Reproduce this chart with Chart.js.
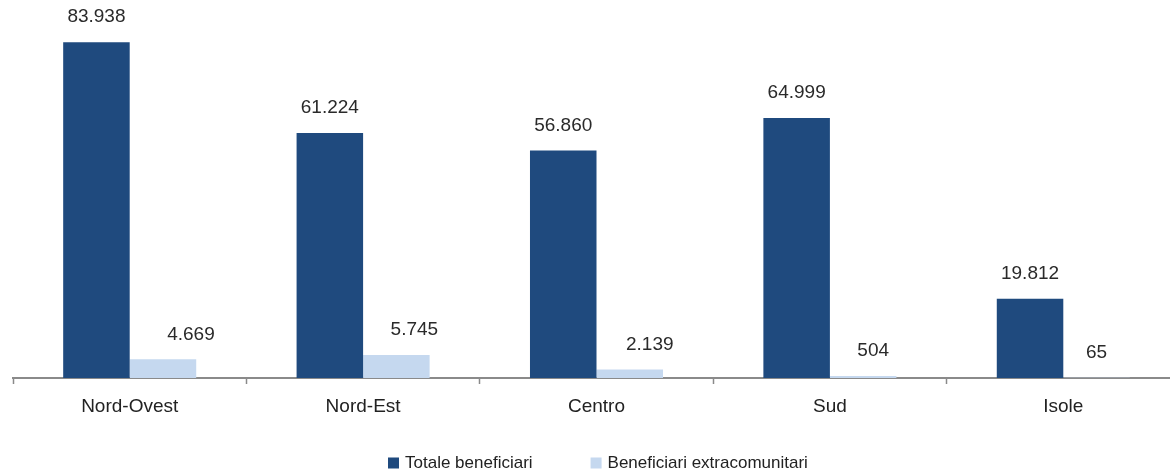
<!DOCTYPE html>
<html lang="it">
<head>
<meta charset="utf-8">
<title>Beneficiari per ripartizione</title>
<script src="https://cdn.jsdelivr.net/npm/chart.js@4.4.1/dist/chart.umd.min.js"></script>
<style>
  html, body { margin: 0; padding: 0; background: #fff; overflow: hidden; }
  #wrap { position: relative; width: 1180px; height: 472px; }
</style>
</head>
<body>
<div id="wrap"><canvas id="chart" width="1180" height="472"></canvas></div>
<script>
const regions = ['Nord-Ovest', 'Nord-Est', 'Centro', 'Sud', 'Isole'];
const totaleBeneficiari = [83938, 61224, 56860, 64999, 19812];
const extracomunitari = [4669, 5745, 2139, 504, 65];
const seriesNames = ['Totale beneficiari', 'Beneficiari extracomunitari'];

const DARK = '#1F4A7E';
const LIGHT = '#C5D8EF';
const FONT = '"Liberation Sans", Arial, sans-serif';

// 4669 -> "4.669"
function fmt(v) {
  return String(v).replace(/\B(?=(\d{3})+(?!\d))/g, '.');
}

// numbers above each bar
const valueLabels = {
  id: 'valueLabels',
  afterDatasetsDraw(chart, args, opts) {
    const ctx = chart.ctx;
    ctx.save();
    ctx.font = '19px ' + FONT;
    ctx.fillStyle = '#2a2a2a';
    ctx.textAlign = 'center';
    ctx.textBaseline = 'middle';
    chart.data.datasets.forEach((ds, i) => {
      const meta = chart.getDatasetMeta(i);
      const shift = (opts.shift && opts.shift[i]) || [];
      meta.data.forEach((bar, j) => {
        ctx.fillText(fmt(ds.data[j]), bar.x + (shift[j] || 0), bar.y - 25);
      });
    });
    ctx.restore();
  }
};

// square-swatch legend under the axis
const bottomLegend = {
  id: 'bottomLegend',
  afterDraw(chart, args, opts) {
    const ctx = chart.ctx;
    const box = 11, gapText = 6, gapItem = 58;
    ctx.save();
    ctx.font = '17px ' + FONT;
    ctx.textBaseline = 'middle';
    let x = opts.x;
    chart.data.datasets.forEach(ds => {
      ctx.fillStyle = ds.backgroundColor;
      ctx.fillRect(x, opts.y - box / 2, box, box);
      ctx.fillStyle = '#222';
      ctx.fillText(ds.label, x + box + gapText, opts.y);
      x += box + gapText + ctx.measureText(ds.label).width + gapItem;
    });
    ctx.restore();
  }
};

new Chart(document.getElementById('chart'), {
  type: 'bar',
  data: {
    labels: regions,
    datasets: [
      { label: seriesNames[0], data: totaleBeneficiari, backgroundColor: DARK },
      { label: seriesNames[1], data: extracomunitari, backgroundColor: LIGHT }
    ]
  },
  options: {
    responsive: false,
    animation: false,
    layout: { padding: { left: 13, right: 0, top: 0, bottom: 0 } },
    categoryPercentage: 0.57,
    barPercentage: 1.0,
    scales: {
      x: {
        grid: {
          offset: true,
          drawOnChartArea: false,
          tickLength: 6,
          tickWidth: 1.5,
          tickColor: '#8a8a8a'
        },
        border: { color: '#8a8a8a', width: 2 },
        ticks: {
          padding: 11,
          color: '#222',
          font: { family: FONT, size: 19 }
        },
        afterFit(scale) { scale.height = 94; }
      },
      y: {
        display: false,
        min: 0,
        max: 94500
      }
    },
    plugins: {
      legend: { display: false },
      tooltip: { enabled: false },
      valueLabels: { shift: [[0, 0, 0, 0, 0], [28, 18, 20, 10, 0]] },
      bottomLegend: { x: 388, y: 463 }
    }
  },
  plugins: [valueLabels, bottomLegend]
});
</script>
</body>
</html>
